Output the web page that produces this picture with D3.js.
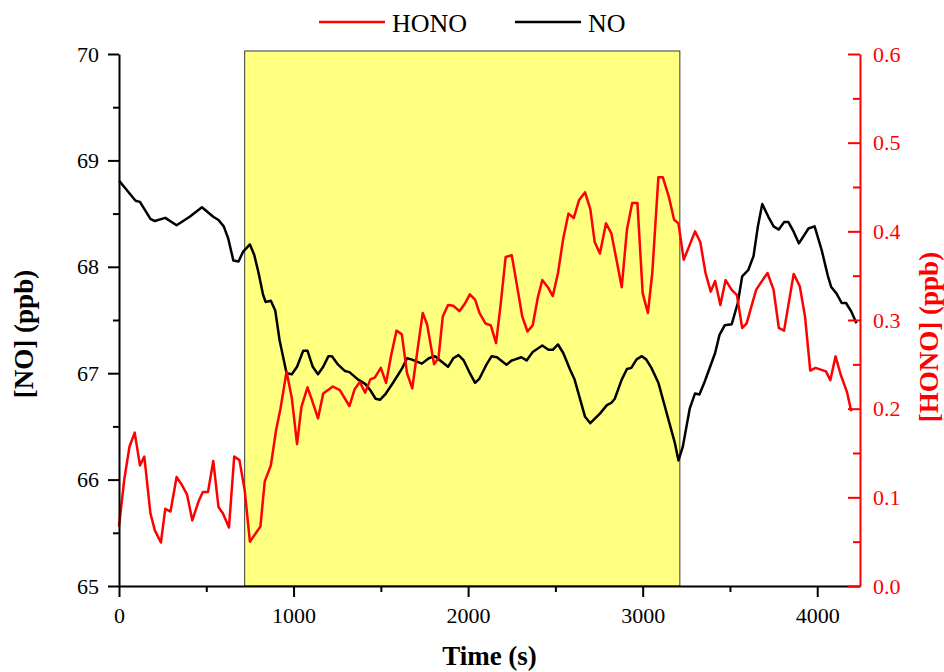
<!DOCTYPE html>
<html>
<head>
<meta charset="utf-8">
<script src="https://cdn.jsdelivr.net/npm/d3@7"></script>
<style>
  html, body { margin: 0; padding: 0; background: #fff; }
  svg { display: block; }
  svg text { font-family: "Liberation Serif", "Times New Roman", serif !important; }
</style>
</head>
<body>
<svg id="chart" width="944" height="672"></svg>
<script>
// ---- data ----
const noTime = [0,35,75,95,120,180,205,265,330,405,475,540,570,600,625,655,685,710,750,775,800,825,840,870,895,920,960,990,1020,1055,1080,1110,1140,1170,1200,1220,1255,1295,1320,1370,1410,1440,1470,1495,1525,1570,1620,1650,1675,1735,1775,1810,1840,1885,1915,1945,1975,2010,2040,2065,2105,2135,2165,2220,2250,2270,2305,2335,2370,2425,2460,2485,2515,2545,2585,2610,2670,2700,2755,2795,2820,2840,2880,2910,2935,2965,2995,3020,3050,3090,3145,3185,3205,3230,3270,3300,3325,3355,3415,3440,3470,3510,3545,3570,3605,3635,3660,3685,3720,3750,3780,3810,3835,3865,3895,3950,3985,4025,4060,4080,4110,4140,4165,4195,4225];
const noValues = [68.81,68.74,68.66,68.62,68.61,68.45,68.43,68.46,68.39,68.47,68.56,68.47,68.44,68.38,68.27,68.06,68.05,68.14,68.21,68.11,67.94,67.74,67.67,67.68,67.59,67.31,67.00,66.99,67.06,67.21,67.21,67.06,66.99,67.06,67.16,67.16,67.08,67.02,67.01,66.94,66.90,66.84,66.76,66.75,66.80,66.91,67.04,67.14,67.13,67.09,67.14,67.16,67.12,67.06,67.14,67.17,67.12,67.00,66.91,66.95,67.08,67.16,67.15,67.08,67.12,67.13,67.15,67.12,67.20,67.26,67.22,67.22,67.27,67.19,67.03,66.94,66.59,66.53,66.62,66.70,66.72,66.76,66.94,67.04,67.05,67.13,67.16,67.13,67.05,66.91,66.58,66.34,66.18,66.31,66.67,66.81,66.80,66.92,67.19,67.36,67.45,67.46,67.66,67.91,67.97,68.10,68.38,68.59,68.47,68.38,68.35,68.42,68.42,68.33,68.22,68.36,68.38,68.16,67.92,67.81,67.75,67.66,67.66,67.58,67.47];

const honoTime = [0,30,60,90,120,145,180,205,240,265,295,330,360,390,420,455,480,510,540,570,595,630,660,690,720,750,810,835,870,900,925,960,990,1020,1045,1080,1105,1140,1170,1225,1265,1320,1350,1380,1410,1440,1465,1500,1530,1560,1590,1620,1650,1680,1710,1740,1765,1805,1830,1855,1885,1915,1950,1980,2010,2040,2065,2100,2130,2160,2185,2215,2250,2280,2310,2340,2370,2400,2425,2460,2485,2515,2545,2575,2605,2635,2670,2700,2725,2755,2790,2820,2850,2880,2910,2940,2970,3000,3030,3055,3090,3115,3150,3180,3205,3235,3270,3300,3330,3360,3390,3415,3445,3475,3510,3540,3570,3595,3650,3680,3715,3750,3780,3810,3865,3900,3930,3960,3990,4050,4075,4105,4135,4170,4195];
const honoValues = [0.067,0.120,0.157,0.173,0.136,0.146,0.082,0.063,0.049,0.087,0.084,0.123,0.114,0.103,0.074,0.095,0.106,0.106,0.141,0.089,0.082,0.066,0.146,0.142,0.108,0.050,0.067,0.118,0.136,0.176,0.200,0.242,0.212,0.160,0.202,0.224,0.210,0.189,0.217,0.225,0.221,0.203,0.222,0.230,0.218,0.233,0.235,0.246,0.229,0.261,0.288,0.284,0.240,0.223,0.266,0.308,0.295,0.250,0.257,0.304,0.317,0.316,0.310,0.318,0.329,0.323,0.308,0.296,0.294,0.274,0.315,0.371,0.373,0.339,0.304,0.287,0.294,0.326,0.345,0.336,0.327,0.353,0.392,0.420,0.415,0.435,0.444,0.425,0.388,0.375,0.409,0.398,0.368,0.337,0.402,0.432,0.432,0.330,0.308,0.353,0.461,0.461,0.439,0.413,0.409,0.368,0.385,0.400,0.388,0.353,0.332,0.344,0.317,0.345,0.334,0.328,0.291,0.296,0.334,0.343,0.353,0.334,0.291,0.288,0.352,0.338,0.304,0.243,0.246,0.242,0.232,0.259,0.238,0.219,0.197];

const shadeRange = [720, 3213];          // highlighted period (s)
const xDomain = [0, 4245];
const noDomain = [65, 70];
const honoDomain = [0, 0.6];
const xTicks = [0, 1000, 2000, 3000, 4000];
const xMinorTicks = [500, 1500, 2500, 3500];
const noTicks = [65, 66, 67, 68, 69, 70];
const noMinorTicks = [65.5, 66.5, 67.5, 68.5, 69.5];
const honoTicks = [0, 0.1, 0.2, 0.3, 0.4, 0.5, 0.6];
const honoMinorTicks = [0.05, 0.15, 0.25, 0.35, 0.45, 0.55];
const legendNames = ["HONO", "NO"];

// ---- layout ----
const L = 119, R = 860, T = 54, B = 586;
const RED = "#ff0000";
const SERIF = '"Liberation Serif", "Times New Roman", serif';
const svg = d3.select("#chart");

const x = d3.scaleLinear().domain(xDomain).range([L, R]);
const yNO = d3.scaleLinear().domain(noDomain).range([B, T]);
const yH = d3.scaleLinear().domain(honoDomain).range([B, T]);

// shaded region
svg.append("rect")
  .attr("x", x(shadeRange[0]))
  .attr("y", T - 3)
  .attr("width", x(shadeRange[1]) - x(shadeRange[0]))
  .attr("height", B - T + 3)
  .attr("fill", "#ffff80")
  .attr("stroke", "#3a3a3a")
  .attr("stroke-width", 1);

// lines
const lineNO = d3.line().x(d => x(d[0])).y(d => yNO(d[1]));
const lineH = d3.line().x(d => x(d[0])).y(d => yH(d[1]));

svg.append("path")
  .datum(d3.zip(noTime, noValues))
  .attr("d", lineNO)
  .attr("fill", "none").attr("stroke", "#000").attr("stroke-width", 2.5)
  .attr("stroke-linejoin", "round");

svg.append("path")
  .datum(d3.zip(honoTime, honoValues))
  .attr("d", lineH)
  .attr("fill", "none").attr("stroke", RED).attr("stroke-width", 2.5)
  .attr("stroke-linejoin", "round");

function styleAxis(g, color, fontSize) {
  g.attr("font-family", SERIF).attr("font-size", fontSize);
  g.selectAll("path.domain").attr("stroke", color).attr("stroke-width", 2);
  g.selectAll(".tick line").attr("stroke", color).attr("stroke-width", 2);
  g.selectAll(".tick text").attr("fill", color)
    .attr("font-family", SERIF)
    .style("font-size", fontSize + "px");
}

// x axis
const gxMinor = svg.append("g").attr("transform", `translate(0,${B})`)
  .call(d3.axisBottom(x).tickValues(xMinorTicks).tickSize(6).tickFormat(""));
styleAxis(gxMinor, "#000", 22);
gxMinor.select("path.domain").remove();
const gx = svg.append("g").attr("transform", `translate(0,${B})`)
  .call(d3.axisBottom(x).tickValues(xTicks).tickSizeInner(11).tickSizeOuter(0).tickPadding(10).tickFormat(d3.format("d")));
styleAxis(gx, "#000", 22);

// left axis (NO)
const gyMinor = svg.append("g").attr("transform", `translate(${L},0)`)
  .call(d3.axisLeft(yNO).tickValues(noMinorTicks).tickSize(6).tickFormat(""));
styleAxis(gyMinor, "#000", 22);
gyMinor.select("path.domain").remove();
const gy = svg.append("g").attr("transform", `translate(${L},0)`)
  .call(d3.axisLeft(yNO).tickValues(noTicks).tickSizeInner(11).tickSizeOuter(0).tickPadding(9).tickFormat(d3.format("d")));
styleAxis(gy, "#000", 22);

// right axis (HONO), ticks pointing inward
const gyrMinor = svg.append("g").attr("transform", `translate(${R},0)`)
  .call(d3.axisRight(yH).tickValues(honoMinorTicks).tickSize(-7).tickFormat(""));
styleAxis(gyrMinor, RED, 22);
gyrMinor.select("path.domain").remove();
const gyr = svg.append("g").attr("transform", `translate(${R},0)`)
  .call(d3.axisRight(yH).tickValues(honoTicks).tickSizeInner(-12).tickSizeOuter(0).tickPadding(13).tickFormat(d3.format(".1f")));
styleAxis(gyr, RED, 22);

// axis titles
svg.append("text")
  .attr("x", (L + R) / 2).attr("y", 665)
  .attr("text-anchor", "middle")
  .style("font-size", "27px").style("font-weight", "bold")
  .text("Time (s)");

svg.append("text")
  .attr("transform", `translate(33,334) rotate(-90)`)
  .attr("text-anchor", "middle")
  .style("font-size", "27px").style("font-weight", "bold")
  .text("[NO] (ppb)");

svg.append("text")
  .attr("transform", `translate(938,337) rotate(-90)`)
  .attr("text-anchor", "middle")
  .attr("fill", RED)
  .style("font-size", "27px").style("font-weight", "bold")
  .text("[HONO] (ppb)");

// legend
const legendColors = [RED, "#000"];
const legendX = [319, 515];
legendNames.forEach((name, i) => {
  const g = svg.append("g").attr("transform", `translate(${legendX[i]},22)`);
  g.append("line").attr("x1", 0).attr("x2", 66).attr("y1", 0).attr("y2", 0)
    .attr("stroke", legendColors[i]).attr("stroke-width", 2.5);
  g.append("text").attr("x", 73).attr("y", 10)
    .style("font-size", "26px").attr("fill", "#000").text(name);
});
</script>
</body>
</html>
